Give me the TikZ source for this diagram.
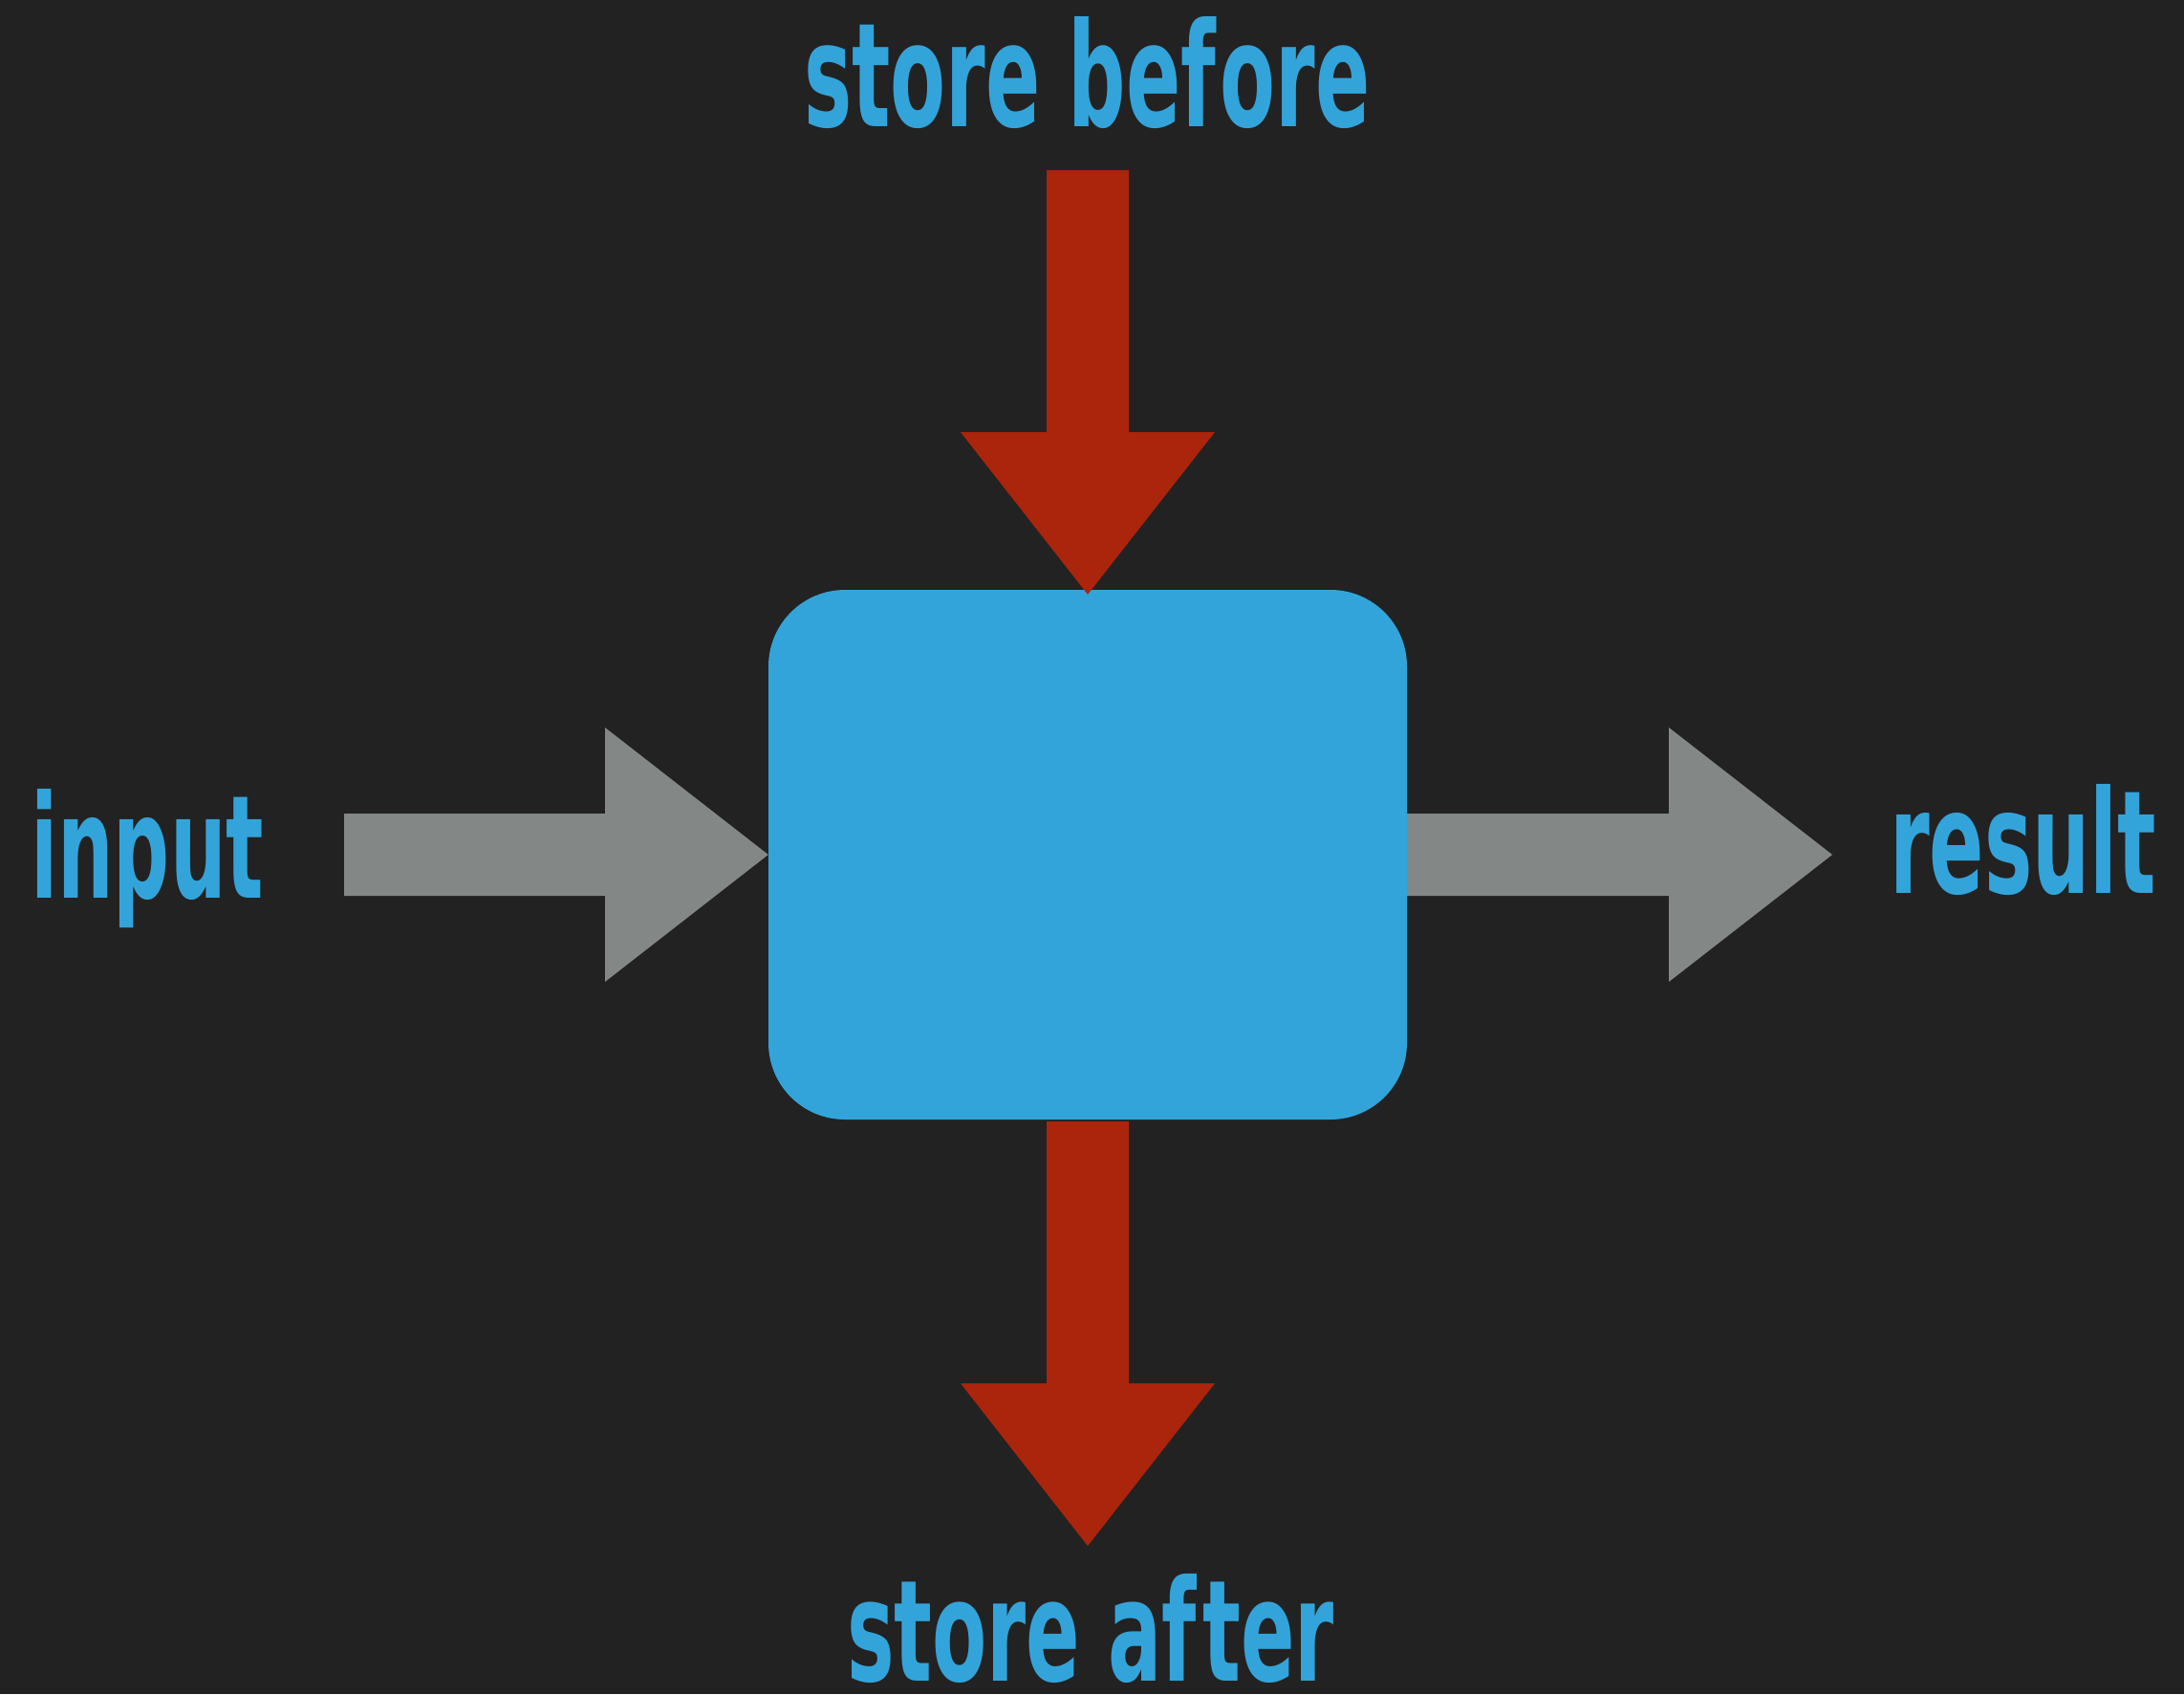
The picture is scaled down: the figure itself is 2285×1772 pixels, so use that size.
\documentclass[tikz,border=0pt]{standalone}
\usepackage{fontspec}
\setmainfont[Ligatures=NoCommon]{DejaVu Sans}
\usetikzlibrary{calc}
\definecolor{bgc}{HTML}{222222}
\definecolor{bluec}{HTML}{33A4DA}
\definecolor{redc}{HTML}{AB240C}
\definecolor{grayc}{HTML}{838786}
\tikzset{
  lbl/.style={anchor=base west, inner sep=0pt, outer sep=0pt, text=bluec, font=\bfseries},
  procbox/.style={fill=bluec, rounded corners=80pt, minimum width=668pt, minimum height=554pt, inner sep=0pt},
  storearrow/.style={fill=redc},
  flowarrow/.style={fill=grayc}
}
\begin{document}
\begin{tikzpicture}[x=1pt,y=-1pt]
\fill[bgc] (0,0) rectangle (2285,1772);
\useasboundingbox (0,0) rectangle (2285,1772);
\node[procbox] (proc) at (1138,894) {};
% labels
\node[lbl] (before) at (841,132) {\resizebox{592pt}{115pt}{store bef\kern0.05em ore}};
\node[lbl] (after) at (886,1758) {\resizebox{510pt}{112pt}{store af\kern0.08em ter}};
\node[lbl] (input) at (32,939) {\resizebox{244pt}{114pt}{input}};
\node[lbl] (result) at (1977,934) {\resizebox{279pt}{114pt}{result}};
% coordinates
\coordinate (tT) at (1138,178);
\coordinate (tH) at (1138,452);
\coordinate (tP) at ($(proc.north)+(0,5)$);
\coordinate (bT) at ($(proc.south)+(0,2)$);
\coordinate (bH) at (1138,1447);
\coordinate (bP) at (1138,1617);
\coordinate (lT) at (360,894);
\coordinate (lH) at (633,894);
\coordinate (lP) at (proc.west);
\coordinate (rT) at (proc.east);
\coordinate (rH) at (1746,894);
\coordinate (rP) at (1917,894);
% top arrow
\fill[storearrow] ($(tT)+(-43,0)$) -- ($(tT)+(43,0)$) -- ($(tH)+(43,0)$) -- ($(tH)+(133,0)$) -- (tP) -- ($(tH)+(-133,0)$) -- ($(tH)+(-43,0)$) -- cycle;
% bottom arrow
\fill[storearrow] ($(bT)+(-43,0)$) -- ($(bT)+(43,0)$) -- ($(bH)+(43,0)$) -- ($(bH)+(133,0)$) -- (bP) -- ($(bH)+(-133,0)$) -- ($(bH)+(-43,0)$) -- cycle;
% left arrow
\fill[flowarrow] ($(lT)+(0,-43)$) -- ($(lH)+(0,-43)$) -- ($(lH)+(0,-133)$) -- (lP) -- ($(lH)+(0,133)$) -- ($(lH)+(0,43)$) -- ($(lT)+(0,43)$) -- cycle;
% right arrow
\fill[flowarrow] ($(rT)+(0,-43)$) -- ($(rH)+(0,-43)$) -- ($(rH)+(0,-133)$) -- (rP) -- ($(rH)+(0,133)$) -- ($(rH)+(0,43)$) -- ($(rT)+(0,43)$) -- cycle;
\end{tikzpicture}
\end{document}
